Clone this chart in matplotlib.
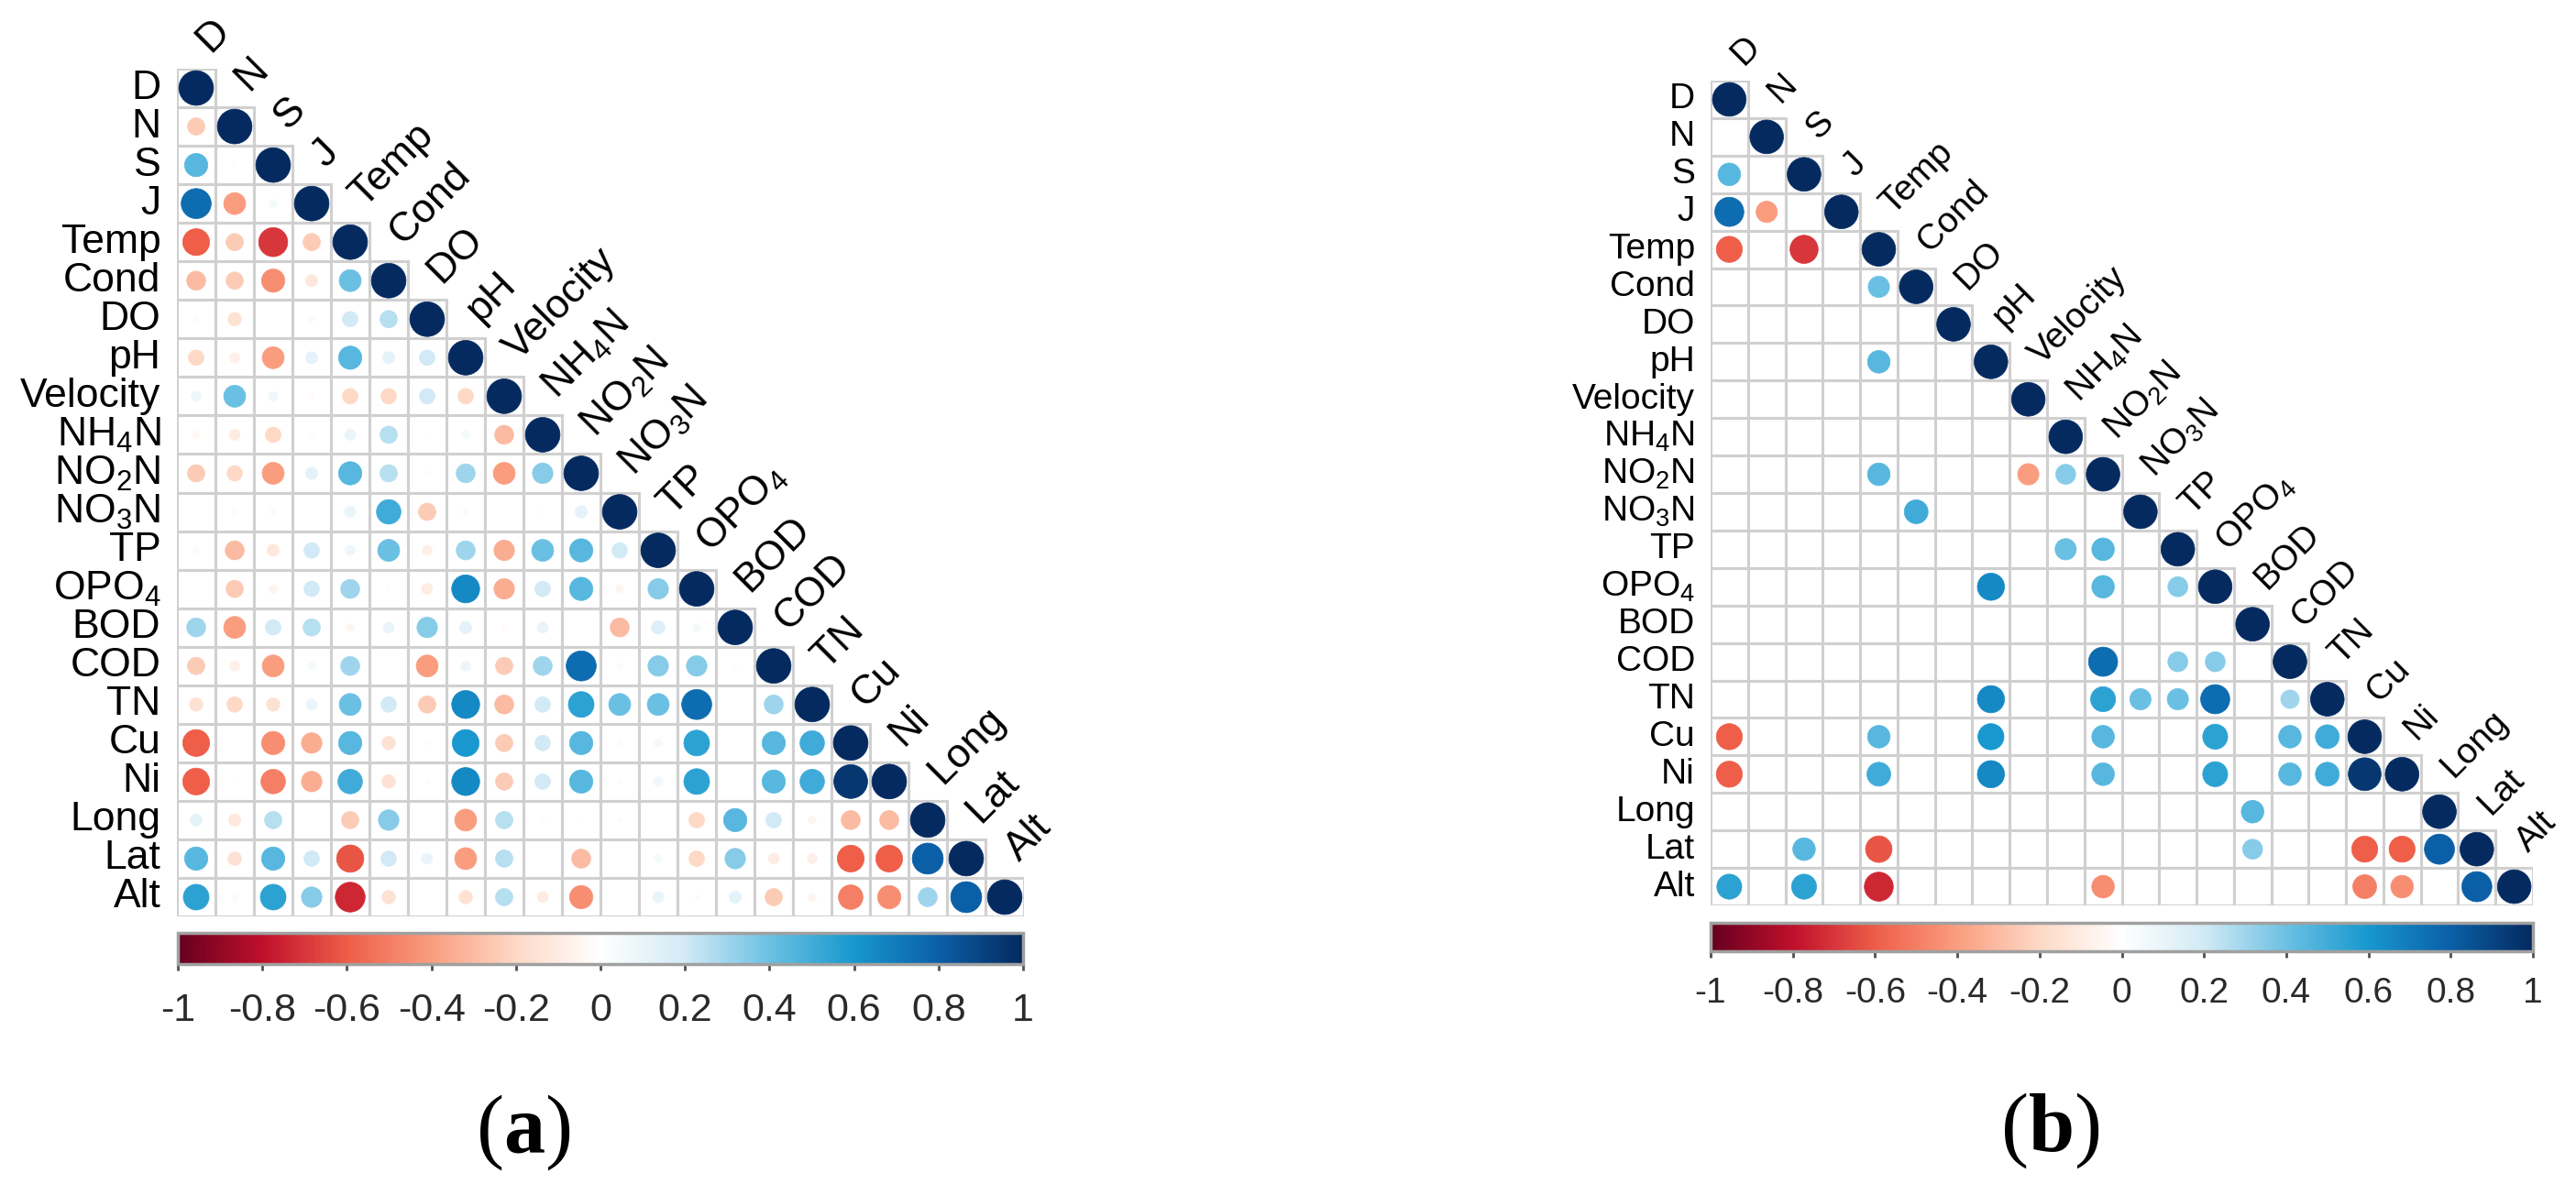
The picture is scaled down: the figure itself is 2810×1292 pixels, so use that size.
import numpy as np
import matplotlib
matplotlib.use("Agg")
import matplotlib.pyplot as plt
from matplotlib import font_manager
from matplotlib.colors import LinearSegmentedColormap, Normalize
from matplotlib.patches import Circle, Rectangle
from matplotlib.cm import ScalarMappable

names = ["D", "N", "S", "J", "Temp", "Cond", "DO", "pH", "Velocity",
         "NH4N", "NO2N", "NO3N", "TP", "OPO4", "BOD", "COD", "TN",
         "Cu", "Ni", "Long", "Lat", "Alt"]
labels = ["D", "N", "S", "J", "Temp", "Cond", "DO", "pH", "Velocity",
          r"NH$_\mathsf{4}$N", r"NO$_\mathsf{2}$N", r"NO$_\mathsf{3}$N", "TP",
          r"OPO$_\mathsf{4}$", "BOD", "COD", "TN", "Cu", "Ni", "Long", "Lat", "Alt"]

# lower triangle (below the diagonal) of the correlation matrix, row by row
corr_rows = [
    [],
    [-0.25],
    [0.45, 0.02],
    [0.75, -0.40, 0.05],
    [-0.60, -0.25, -0.70, -0.25],
    [-0.30, -0.25, -0.45, -0.12, 0.40],
    [-0.02, -0.15, 0.00, -0.03, 0.20, 0.25],
    [-0.20, -0.08, -0.40, 0.12, 0.45, 0.12, 0.20],
    [0.08, 0.40, 0.07, -0.03, -0.20, -0.20, 0.20, -0.20],
    [-0.04, -0.10, -0.20, 0.02, 0.10, 0.25, 0.02, 0.05, -0.30],
    [-0.25, -0.20, -0.40, 0.12, 0.45, 0.25, 0.02, 0.30, -0.40, 0.35],
    [0.00, 0.03, -0.03, 0.00, 0.10, 0.50, -0.25, 0.03, 0.00, 0.02, 0.12],
    [0.03, -0.30, -0.12, 0.20, 0.08, 0.40, -0.08, 0.30, -0.35, 0.40, 0.45, 0.20],
    [0.00, -0.25, -0.06, 0.20, 0.30, 0.02, -0.10, 0.65, -0.35, 0.20, 0.45, -0.05, 0.35],
    [0.30, -0.40, 0.20, 0.25, -0.05, 0.10, 0.35, 0.12, -0.03, 0.10, 0.00, -0.30, 0.15, 0.05],
    [-0.25, -0.08, -0.40, 0.05, 0.30, 0.00, -0.40, 0.08, -0.25, 0.30, 0.75, -0.03, 0.35,
     0.35, 0.02],
    [-0.15, -0.20, -0.15, 0.10, 0.40, 0.20, -0.25, 0.65, -0.30, 0.20, 0.55, 0.40, 0.40,
     0.75, 0.00, 0.30],
    [-0.60, 0.00, -0.45, -0.35, 0.45, -0.15, -0.02, 0.60, -0.25, 0.20, 0.45, -0.03, 0.05,
     0.55, 0.00, 0.45, 0.50],
    [-0.60, 0.01, -0.50, -0.35, 0.50, -0.15, -0.02, 0.65, -0.25, 0.20, 0.45, -0.02, 0.07,
     0.55, 0.00, 0.45, 0.50, 0.95],
    [0.12, -0.12, 0.25, 0.00, -0.25, 0.35, 0.00, -0.40, 0.25, 0.02, 0.02, -0.02, 0.00,
     -0.20, 0.45, 0.20, -0.05, -0.30, -0.30],
    [0.45, -0.15, 0.45, 0.20, -0.62, 0.20, 0.10, -0.40, 0.25, 0.00, -0.30, 0.00, 0.05,
     -0.20, 0.35, -0.10, -0.08, -0.60, -0.60, 0.80],
    [0.55, 0.03, 0.55, 0.35, -0.74, -0.15, 0.00, -0.15, 0.25, -0.10, -0.45, 0.00, 0.10,
     -0.02, 0.12, -0.25, -0.05, -0.50, -0.45, 0.30, 0.80],
]

# panel (b): only the significant correlations are kept
sig_b = {
    "S": ["D"],
    "J": ["D", "N"],
    "Temp": ["D", "S"],
    "Cond": ["Temp"],
    "pH": ["Temp"],
    "NO2N": ["Temp", "Velocity", "NH4N"],
    "NO3N": ["Cond"],
    "TP": ["NH4N", "NO2N"],
    "OPO4": ["pH", "NO2N", "TP"],
    "COD": ["NO2N", "TP", "OPO4"],
    "TN": ["pH", "NO2N", "NO3N", "TP", "OPO4", "COD"],
    "Cu": ["D", "Temp", "pH", "NO2N", "OPO4", "COD", "TN"],
    "Ni": ["D", "Temp", "pH", "NO2N", "OPO4", "COD", "TN", "Cu"],
    "Long": ["BOD"],
    "Lat": ["S", "Temp", "BOD", "Cu", "Ni", "Long"],
    "Alt": ["D", "S", "Temp", "NO2N", "Cu", "Ni", "Lat"],
}

cbar_ticks = [-1, -0.8, -0.6, -0.4, -0.2, 0, 0.2, 0.4, 0.6, 0.8, 1]
cbar_labels = ["-1", "-0.8", "-0.6", "-0.4", "-0.2", "0", "0.2", "0.4", "0.6", "0.8", "1"]

cmap_stops = [-1.0, -0.8, -0.6, -0.4, -0.2, 0.0, 0.2, 0.4, 0.6, 0.8, 1.0]
cmap_colors = ["#67001F", "#C0102C", "#EE5E48", "#FA9E80", "#FDD9C6", "#FFFFFF",
               "#D2EAF5", "#6CC1E3", "#1898CE", "#0B60A8", "#042A60"]

installed = {f.name for f in font_manager.fontManager.ttflist}
sans = "Liberation Sans" if "Liberation Sans" in installed else "DejaVu Sans"
serif = "Liberation Serif" if "Liberation Serif" in installed else "DejaVu Serif"
plt.rcParams["font.family"] = [sans, "DejaVu Sans"]
plt.rcParams["mathtext.fontset"] = "custom"
plt.rcParams["mathtext.rm"] = serif
plt.rcParams["mathtext.bf"] = serif + ":bold"
plt.rcParams["mathtext.sf"] = sans

n = len(names)
corr = np.eye(n)
for i, row in enumerate(corr_rows):
    corr[i, :i] = row

keep_a = np.tril(np.ones((n, n), dtype=bool))
keep_b = np.eye(n, dtype=bool)
for rname, cols in sig_b.items():
    for cname in cols:
        keep_b[names.index(rname), names.index(cname)] = True

cmap = LinearSegmentedColormap.from_list(
    "corr", list(zip((np.array(cmap_stops) + 1) / 2, cmap_colors)))
norm = Normalize(-1, 1)

W, H = 2810, 1292
fig = plt.figure(figsize=(W / 100, H / 100), dpi=100)


def frac(x0, y0, x1, y1):
    return [x0 / W, 1 - y1 / H, (x1 - x0) / W, (y1 - y0) / H]


def draw_panel(grid_box, keep, fs):
    ax = fig.add_axes(frac(*grid_box))
    ax.set_xlim(-0.5, n - 0.5)
    ax.set_ylim(n - 0.5, -0.5)
    ax.axis("off")
    for i in range(n):
        for j in range(i + 1):
            ax.add_patch(Rectangle((j - 0.5, i - 0.5), 1, 1, fc="white",
                                   ec="#D0D0D0", lw=2.2, zorder=1))
    for i in range(n):
        for j in range(i + 1):
            if not keep[i, j]:
                continue
            r = corr[i, j]
            rad = 0.45 * np.sqrt(abs(r))
            if rad < 0.03:
                continue
            c = cmap(norm(r))
            ax.add_patch(Circle((j, i), rad, fc=c, ec=c, lw=0.5, zorder=2))
    for i, lab in enumerate(labels):
        ax.text(-0.92, i, lab, ha="right", va="center", fontsize=fs,
                color="black", clip_on=False)
        ax.text(i + 0.37, i - 0.9, lab, ha="left", va="baseline", rotation=45,
                rotation_mode="anchor", fontsize=fs, color="black", clip_on=False)
    return ax


def draw_cbar(box, fs, pad):
    cax = fig.add_axes(frac(*box))
    cb = fig.colorbar(ScalarMappable(norm=norm, cmap=cmap), cax=cax,
                      orientation="horizontal")
    cb.set_ticks(cbar_ticks)
    cb.set_ticklabels(cbar_labels)
    cb.outline.set_edgecolor("#A0A0A0")
    cb.outline.set_linewidth(2.5)
    cax.tick_params(length=5, width=2, color="#505050", labelsize=fs, pad=pad,
                    labelcolor="#2A2A2A")
    return cb


draw_panel((193, 75, 1117, 1000), keep_a, 32)
draw_cbar((194, 1018, 1116, 1052), 31, 17)
draw_panel((1866, 88, 2763, 988), keep_b, 28)
draw_cbar((1866, 1007, 2763, 1038), 28, 15)

fig.text(571 / W, 1 - 1236 / H, r"$\mathrm{(}\mathbf{a}\mathrm{)}$", ha="center",
         va="center", fontsize=65)
fig.text(2236 / W, 1 - 1234 / H, r"$\mathrm{(}\mathbf{b}\mathrm{)}$", ha="center",
         va="center", fontsize=65)

fig.savefig("out.png", dpi=100, facecolor="white")
